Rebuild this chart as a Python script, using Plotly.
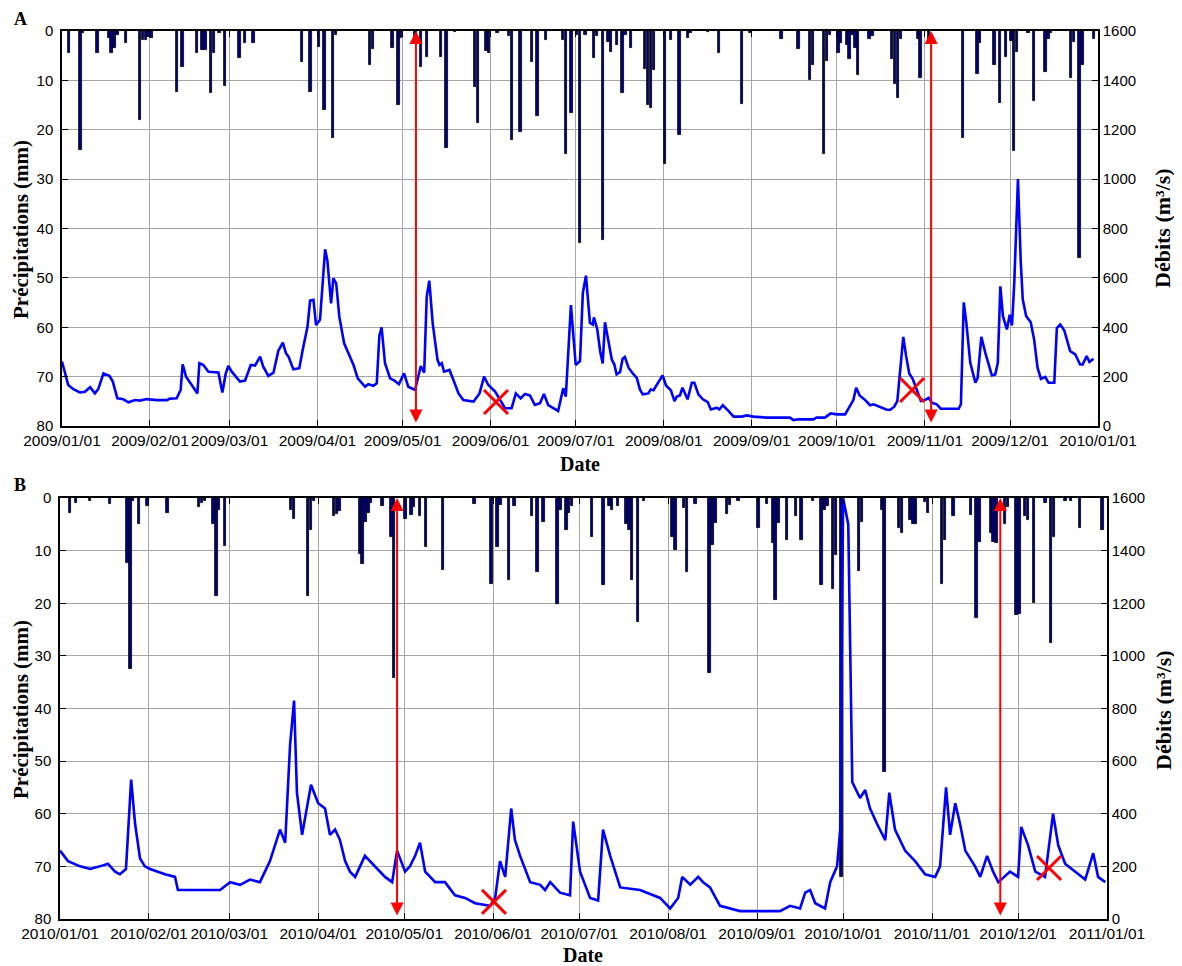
import plotly.graph_objects as go
import pandas as pd

# the page body adds an 8px margin, so the figure is sized and positioned to compensate
OFF = 8
W, H = 1182 - OFF, 966 - OFF

# ---------------- Panel A (2009) ----------------
a_start, a_end = "2009-01-01", "2010-01-01"
a_rain_day = [2, 6, 7, 12, 16, 17, 18, 19, 22, 27, 28, 29, 30, 31, 40, 42, 47, 49, 50, 52, 53, 55, 57,
              62, 64, 67, 84, 87, 90, 92, 95, 96, 108, 109, 116, 118, 119, 124, 126, 128, 133, 135, 138,
              145, 146, 149, 150, 153, 157, 158, 161, 165, 167, 170, 176, 177, 179, 181, 182, 184, 187,
              188, 190, 192, 193, 195, 197, 198, 200, 205, 206, 207, 208, 212, 214, 217, 220, 221, 227,
              231, 239, 242, 253, 259, 263, 264, 268, 269, 270, 273, 274, 276, 277, 278, 279, 280, 284,
              285, 292, 293, 294, 295, 301, 302, 305, 317, 322, 323, 328, 330, 332, 334, 335, 336, 340,
              342, 346, 347, 348, 355, 356, 358, 359, 363]
a_rain_mm = [4.4, 24, 0.5, 4.4, 1.5, 4.4, 3.4, 0.8, 2.4, 18, 1.8, 1.8, 1.3, 1.5, 12.4, 7.2, 4.4, 3.9, 3.9, 12.6, 4.4, 0.4, 11.1,
             5.4, 2.5, 2.4, 6.2, 12.4, 3.2, 16, 21.6, 0.8, 6.9, 3.7, 3.4, 15, 1.5, 1.5, 7.2, 5.2, 5.2, 23.6, 0.3,
             11.3, 18.7, 4, 4.4, 0.5, 1, 22, 20.5, 6.2, 17.2, 1.8, 1.8, 25, 16.7, 0.8, 43, 0.8, 5.4,
             1, 42.3, 2.2, 4.2, 2.8, 12.6, 0.8, 3.5, 7.6, 15, 15.5, 7.9, 27, 1.8, 21, 1.5, 0.5, 0.3,
             4.4, 14.7, 0.5, 1.6, 3.6, 10, 6.9, 25, 6.1, 0.8, 4.5, 2.4, 2.9, 5.6, 0.8, 3.4, 8.9, 1.7,
             1, 5.6, 10.7, 13.5, 1.7, 1.7, 9.5, 2.4, 21.6, 8.8, 2.4, 6.8, 14.5, 5.2, 2, 24.3, 4.2, 0.4,
             14.2, 8.3, 1.7, 0.4, 9.5, 2.2, 46, 6.8, 1.7]
a_q_day = [0, 2.2, 4, 6.3, 8.1, 9.9, 11.6, 12.8, 14.6, 16.7, 17.9, 19.5, 21.6, 23.4, 25.7, 27.5, 29.8,
           33.4, 36.9, 38.1, 40.4, 41.8, 42.5, 43.7, 45.7, 47.7, 48.4, 49.8, 51.6, 55.1, 56.5, 57.7,
           58.6, 59.8, 62.7, 64.5, 66.5, 68, 69.8, 70.9, 72.7, 74.5, 76.2, 77.8, 78.9, 79.8, 81.5,
           83.6, 84.8, 86.5, 87.4, 88.6, 89.5, 90.9, 92.7, 93.5, 94.8, 95.6, 96.6, 97.7, 99.4, 102.7,
           104.2, 106.8, 107.9, 109.7, 110.9, 111.8, 112.6, 113.8, 115.6, 117.1, 118.7, 120.5, 122,
           124.4, 126.4, 127.6, 128.5, 129.4, 130.6, 132.3, 133, 133.8, 134.6, 136.5, 137.9, 139.7,
           141.4, 145, 147.1, 148.7, 150.2, 152.6, 156.1, 158.4, 159.9, 161.6, 163.1, 164.9, 166.6,
           168.4, 169.8, 171.3, 174.8, 176.6, 177.5, 179.3, 181, 182.5, 183.5, 184.6, 186, 187, 187.4,
           188.6, 189.6, 190.5, 191.3, 192.8, 193.7, 194.6, 195.4, 196.6, 197.5, 198.3, 199.6, 201.1,
           202.5, 203.6, 204.6, 206.6, 207.4, 208.4, 211.6, 212.8, 214.5, 215.8, 216.6, 217.7, 218.6,
           220.4, 221.9, 222.8, 224.2, 225.8, 227.5, 228.6, 230.7, 231.6, 232.8, 234.8, 236.6, 239.5,
           241.2, 243.6, 248.3, 256.5, 257.7, 259.4, 264.7, 265.9, 268.8, 270.8, 273, 275.9, 276.8,
           278.8, 279.8, 281, 283, 284.7, 285.9, 288.3, 290.4, 291.7, 293.2, 294.3, 295.3, 296.4,
           297.4, 298.5, 299.7, 301.2, 302.6, 304.1, 305.3, 306.5, 308.2, 309.6, 315.9, 316.7, 317.7,
           318.6, 320, 321.8, 322.6, 323.9, 325.3, 327.6, 328.8, 329.7, 330.6, 331.5, 332.9, 333.9,
           334.7, 335.5, 336.8, 337.8, 338.5, 339.7, 341.3, 342.5, 343.7, 344.9, 346.4, 347.6, 349.6,
           350.5, 351.7, 353.1, 355.2, 357, 358.7, 359.6, 361, 362, 363.4]
a_q_val = [261, 166, 149, 136, 139, 157, 132, 150, 213, 203, 180, 112, 108, 96, 105, 103, 109,
           105, 105, 111, 112, 146, 250, 200, 166, 132, 254, 247, 220, 217, 136, 213,
           243, 220, 180, 184, 247, 245, 281, 240, 203, 216, 304, 338, 295, 281, 230,
           234, 308, 403, 508, 511, 409, 430, 716, 670, 497, 598, 578, 443, 335, 247,
           193, 159, 169, 163, 173, 365, 400, 254, 193, 184, 169, 213, 159,
           146, 243, 216, 524, 589, 416, 268, 247, 254, 220, 227, 186, 132,
           105, 99, 132, 200, 166, 139, 72, 72, 132, 112, 130, 123, 85,
           92, 130, 85, 61, 153, 119, 490, 247, 263, 539, 609, 418, 411, 440,
           391, 303, 253, 420, 317, 269, 249, 209, 218, 272, 280, 236, 213,
           195, 148, 128, 132, 148, 145, 205, 164, 145, 101, 119, 124, 155,
           108, 175, 175, 128, 108, 97, 67, 74, 67, 84, 61, 38, 38,
           43, 38, 34, 34, 24, 27, 27, 34, 34, 51, 47, 47, 67,
           105, 155, 124, 105, 84, 88, 78, 67, 65, 78, 101, 215, 361,
           283, 213, 191, 141, 101, 105, 114, 94, 88, 70, 70, 88, 501,
           420, 256, 175, 195, 361, 296, 205, 209, 256, 566, 445, 391, 451,
           407, 579, 1000, 660, 512, 445, 420, 350, 236, 191, 199, 175, 175,
           397, 411, 388, 303, 290, 249, 249, 283, 259, 272]
a_arrow_day = [124.7, 306.2]
a_cross_day = [152.9, 299.5]
a_cross_q = [97, 146]

# ---------------- Panel B (2010) ----------------
b_start, b_end = "2010-01-01", "2011-01-01"
b_rain_day = [3, 5, 10, 17, 23, 24, 25, 27, 30, 37, 48, 49, 50, 53, 54, 55, 57, 80, 81, 86, 87, 88,
              95, 96, 97, 104, 105, 106, 107, 108, 112, 115, 116, 120, 122, 123, 125, 127, 133, 144,
              150, 152, 153, 156, 158, 164, 166, 168, 173, 174, 176, 177, 178, 185, 189, 191, 192,
              194, 197, 198, 199, 201, 203, 213, 214, 217, 218, 221, 226, 227, 228, 232, 233, 236,
              243, 246, 248, 249, 250, 253, 256, 258, 262, 265, 266, 267, 269, 270, 272, 278, 279,
              286, 287, 292, 293, 296, 297, 298, 301, 302, 307, 308, 311, 317, 319, 320, 324, 325,
              326, 329, 330, 333, 334, 336, 337, 339, 343, 345, 346, 350, 352, 355, 363]
b_rain_mm = [2.8, 1, 0.6, 1.2, 12.3, 32.4, 0.5, 5, 1.6, 2.8, 1.8, 1, 0.6, 5, 18.6, 2.3, 9.1, 2.3, 4, 18.6, 6, 0.6,
             3.5, 3, 2.5, 10.7, 12.6, 4.6, 2.8, 1, 1.6, 7.5, 34.2, 3.9, 3.3, 1.7, 3.5, 9.4, 13.6, 1.2,
             16.3, 9.4, 1.4, 15.5, 1.6, 3.5, 14, 4.6, 20.2, 2.3, 6, 2.8, 1.6, 7.5, 16.6, 1.6, 2.2,
             1.6, 5, 6, 15.6, 23.5, 0.6, 7.4, 9.8, 1.9, 14, 1.2, 33.2, 9, 4.7, 3.1, 1.4, 0.6,
             5.7, 1.2, 8.5, 19.4, 4.7, 7.9, 3.5, 7.9, 0.5, 16.6, 2.3, 1.6, 17.2, 10.9, 72, 13.8, 4.6,
             2.2, 52, 5.7, 6.6, 4.2, 5, 5, 0.8, 2.8, 16.3, 7.9, 3.5, 3.3, 22.8, 8.4, 6.6, 8.4,
             8.5, 5, 1.8, 22.3, 22, 3.5, 4.2, 20, 1, 27.5, 7.4, 0.6, 0.5, 5.7, 6]
b_q_day = [0, 2.8, 7, 10.5, 13.9, 16.7, 19.2, 20.9, 23, 24.8, 26.2, 27.9, 29.6, 31.4, 36.6, 40.1, 41.1,
           55.8, 59.3, 62.8, 66.2, 69.7, 73.2, 76.7, 78.5, 80.2, 81.6, 82.6, 84.4, 87.5, 90, 92.4,
           94.1, 95.9, 97.6, 99.4, 101.1, 102.9, 106.3, 109.8, 113.3, 115.8, 117.5, 120.3, 122,
           123.8, 125.5, 127.3, 130.8, 134.2, 137.7, 141.2, 144.7, 149.9, 151.7, 153.4, 155.2,
           157.3, 158.6, 160.4, 163.9, 167.4, 169.1, 170.9, 174.3, 177.8, 178.9, 181.3, 184.8,
           187.6, 189.3, 191.8, 195.3, 202.2, 209.2, 212.7, 215.5, 216.9, 219.7, 222.5, 224.2,
           226.6, 230.1, 237.1, 251, 254.5, 258, 259.8, 261.5, 263.3, 266.7, 268.5, 270.9, 272,
           273, 274.8, 276.2, 278.9, 280.7, 282.4, 284.9, 287.7, 289.1, 291.1, 294.6, 298.1,
           301.6, 305.1, 306.8, 308.9, 310.3, 312.1, 313.8, 315.6, 319, 320.8, 323.2, 325.3,
           327.1, 331.2, 334, 335.1, 337.5, 340, 343.4, 346.2, 348, 350.4, 353.9, 357.4, 360.2,
           361.9, 364.4]
b_q_val = [260, 220, 200, 190, 200, 210, 180, 170, 190, 530, 360, 230, 200, 190, 170, 160, 110,
           110, 140, 130, 150, 140, 220, 340, 290, 660, 830, 480, 320, 510, 440, 420,
           320, 340, 300, 220, 180, 160, 240, 200, 160, 140, 260, 180, 200,
           240, 290, 180, 140, 140, 90, 80, 60, 50, 80, 220, 160,
           420, 300, 240, 140, 130, 110, 140, 100, 90, 370, 180, 80,
           70, 340, 240, 120, 110, 80, 40, 80, 160, 130, 160, 140,
           120, 50, 30, 30, 50, 40, 100, 110, 60, 40, 140, 200, 340,
           1600, 1500, 520, 460, 490, 420, 360, 300, 480, 340, 260, 220,
           170, 160, 200, 500, 320, 440, 360, 260, 200, 160, 240, 180,
           140, 180, 160, 350, 280, 180, 160, 400, 280, 210, 180, 150, 250,
           160, 140]
b_arrow_day = [117.5, 327.8]
b_cross_day = [151.3, 344.8]
b_cross_q = [65, 194]

left_ticks = [0, 10, 20, 30, 40, 50, 60, 70, 80]
right_ticks = [0, 200, 400, 600, 800, 1000, 1200, 1400, 1600]


def to_dates(start, days):
    return pd.Timestamp(start) + pd.to_timedelta(pd.Series(days, dtype=float), unit="D")


def month_ticks(start):
    return list(pd.date_range(start, periods=13, freq="MS"))


fig = go.Figure()

panels = [
    dict(start=a_start, end=a_end, rd=a_rain_day, rm=a_rain_mm, qd=a_q_day, qv=a_q_val,
         arrows=a_arrow_day, cd=a_cross_day, cq=a_cross_q, xa="x", ya="y", ya2="y2"),
    dict(start=b_start, end=b_end, rd=b_rain_day, rm=b_rain_mm, qd=b_q_day, qv=b_q_val,
         arrows=b_arrow_day, cd=b_cross_day, cq=b_cross_q, xa="x2", ya="y3", ya2="y4"),
]

for p in panels:
    fig.add_trace(go.Bar(x=to_dates(p["start"], [d + 0.5 for d in p["rd"]]), y=p["rm"],
                         width=86400000 * 0.85, marker=dict(color="#000080", line=dict(color="black", width=0.8)),
                         xaxis=p["xa"], yaxis=p["ya"], showlegend=False))
    fig.add_trace(go.Scatter(x=to_dates(p["start"], p["qd"]), y=p["qv"], mode="lines",
                             line=dict(color="#0000ff", width=2.6), xaxis=p["xa"], yaxis=p["ya2"],
                             showlegend=False))
    fig.add_trace(go.Scatter(x=to_dates(p["start"], p["cd"]), y=p["cq"], mode="markers",
                             marker=dict(symbol="x-thin", size=24, line=dict(color="red", width=3)),
                             xaxis=p["xa"], yaxis=p["ya2"], showlegend=False))
    for d in to_dates(p["start"], p["arrows"]):
        fig.add_annotation(x=d, y=1600, ax=d, ay=8, xref=p["xa"], yref=p["ya2"],
                           axref=p["xa"], ayref=p["ya2"], showarrow=True, text="",
                           arrowside="end+start", arrowhead=2, startarrowhead=2,
                           arrowsize=1.3, startarrowsize=1.3, arrowwidth=2, arrowcolor="red")


def px(x):
    return (x - OFF) / W


def py(y):
    return 1 - (y - OFF) / H


xtickfont = dict(family="Liberation Sans, Arial", size=15.5, color="black")
ytickfont = dict(family="Liberation Sans, Arial", size=15, color="black")
grid = "#a6a6a6"

doms = [
    dict(x=[px(62), px(1098)], y=[py(426), py(31)]),
    dict(x=[px(60), px(1107)], y=[py(919), py(498)]),
]

layout = dict(width=W, height=H, margin=dict(l=0, r=0, t=0, b=0, autoexpand=False),
              paper_bgcolor="white", plot_bgcolor="white", bargap=0)

for i, (p, dm) in enumerate(zip(panels, doms)):
    xk = "xaxis" if i == 0 else "xaxis2"
    yk = "yaxis" if i == 0 else "yaxis3"
    y2k = "yaxis2" if i == 0 else "yaxis4"
    mt = month_ticks(p["start"])
    layout[xk] = dict(domain=dm["x"], anchor=p["ya"], type="date", range=[p["start"], p["end"]],
                      tickvals=mt, ticktext=[t.strftime("%Y/%m/%d") for t in mt], tickangle=0,
                      ticks="inside", ticklen=6, tickcolor="black", showgrid=True, gridcolor=grid,
                      gridwidth=1, showline=True, linecolor="black", linewidth=1.5, mirror="ticks",
                      tickfont=xtickfont, zeroline=False, automargin=False)
    layout[yk] = dict(domain=dm["y"], anchor=p["xa"], range=[80, 0], tickvals=left_ticks,
                      ticks="inside", ticklen=6, tickcolor="black", showgrid=True, gridcolor=grid,
                      showline=True, linecolor="black", linewidth=1.5, tickfont=ytickfont,
                      zeroline=False, ticklabelstandoff=4, automargin=False)
    layout[y2k] = dict(overlaying=p["ya"], anchor=p["xa"], side="right", range=[0, 1600],
                       tickvals=right_ticks, ticks="inside", ticklen=6, tickcolor="black",
                       showgrid=False, showline=True, linecolor="black", linewidth=1.5,
                       tickfont=ytickfont, zeroline=False, automargin=False)

fig.update_layout(**layout)

serif = "Liberation Serif, Times New Roman"
ann = [
    ("<b>Date</b>", 580, 464, 0, 20), ("<b>Date</b>", 583, 955, 0, 20),
    ("<b>Débits (m³/s)</b>", 1163, 228, -90, 22), ("<b>Débits (m³/s)</b>", 1163, 710, -90, 22),
]
for t, x, y, ang, fs in ann:
    fig.add_annotation(text=t, x=px(x), y=py(y), xref="paper", yref="paper", showarrow=False,
                       textangle=ang, font=dict(family=serif, size=fs, color="black"),
                       xanchor="center", yanchor="middle")

# left axis titles, anchored to the left edge of the figure
for yc in (230, 710):
    fig.add_annotation(text="<b>Précipitations (mm)</b>", x=0, y=py(yc), xref="paper", yref="paper",
                       showarrow=False, textangle=-90, font=dict(family=serif, size=21, color="black"),
                       xanchor="left", yanchor="middle", borderpad=0)

# panel letters
fig.add_annotation(text="<b>A</b>", x=px(20), y=1.0, xref="paper", yref="paper", showarrow=False,
                   font=dict(family=serif, size=18, color="black"), xanchor="center", yanchor="top",
                   borderpad=0)
fig.add_annotation(text="<b>B</b>", x=px(20), y=py(485), xref="paper", yref="paper", showarrow=False,
                   font=dict(family=serif, size=18, color="black"), xanchor="center", yanchor="middle",
                   borderpad=0)

fig.write_html("out.html")
